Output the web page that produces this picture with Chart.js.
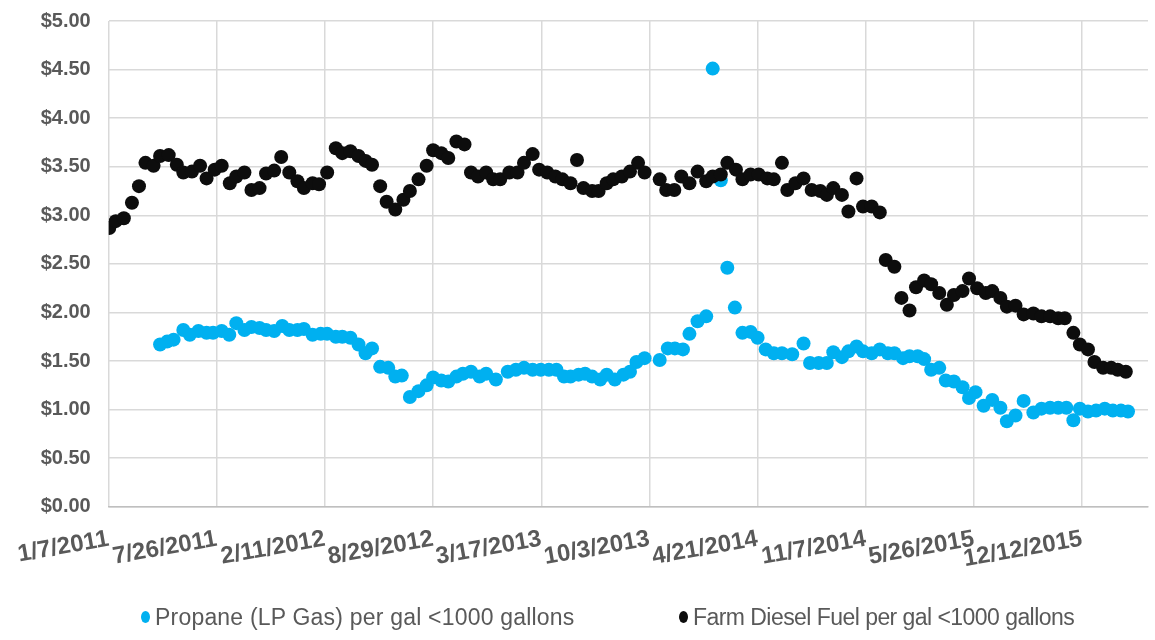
<!DOCTYPE html>
<html>
<head>
<meta charset="utf-8">
<script src="https://cdn.jsdelivr.net/npm/chart.js@4.4.1/dist/chart.umd.min.js"></script>
<style>
  html, body { margin: 0; padding: 0; background: #fff; }
  #wrap { width: 1155px; height: 640px; position: relative; overflow: hidden; }
  #chartBox { position: absolute; left: 0; top: -9px; width: 1155px; height: 649px; }
  .leg { position: absolute; top: 604px; height: 26px; display: flex; align-items: center;
         font-family: 'Liberation Sans', Arial, sans-serif; font-size: 23px; color: #595959; white-space: nowrap; }
  .leg .dot { display: inline-block; width: 9px; height: 12px; border-radius: 50%; margin-right: 5px; }
</style>
</head>
<body>
<div id="wrap">
  <div id="chartBox"><canvas id="c"></canvas></div>
  <div class="leg" id="leg0" style="left:141px; letter-spacing:0.2px;"><span class="dot" id="dot0"></span><span id="txt0"></span></div>
  <div class="leg" id="leg1" style="left:679px; letter-spacing:-0.55px;"><span class="dot" id="dot1"></span><span id="txt1"></span></div>
</div>
<script>
// Days since 1/7/2011
const xTickStepDays = 200;
const startDate = [2011, 0, 7];

const dieselDays = [1,13,28,43,56,68,83,95,111,126,138,154,169,181,196,209,224,236,251,264,279,291,306,319,334,349,361,377,389,404,420,432,447,462,475,487,502,514,530,545,557,573,588,600,615,628,643,658,670,683,698,711,724,741,756,768,784,796,811,826,839,854,866,878,894,906,921,933,949,964,979,991,1019,1031,1046,1059,1074,1089,1105,1117,1132,1144,1160,1172,1187,1202,1218,1230,1245,1255,1270,1285,1300,1316,1328,1340,1356,1368,1383,1395,1411,1426,1437,1453,1466,1481,1493,1508,1521,1536,1550,1563,1579,1591,1606,1622,1634,1649,1661,1677,1692,1710,1725,1741,1756,1768,1784,1796,1811,1823,1839,1854,1866,1881];
const dieselPrice = [2.87,2.94,2.97,3.13,3.30,3.54,3.51,3.61,3.62,3.52,3.44,3.45,3.51,3.38,3.47,3.51,3.33,3.40,3.44,3.26,3.28,3.43,3.46,3.60,3.44,3.35,3.28,3.33,3.32,3.44,3.69,3.64,3.66,3.61,3.56,3.52,3.30,3.14,3.06,3.16,3.25,3.37,3.51,3.67,3.64,3.59,3.76,3.73,3.44,3.40,3.44,3.37,3.37,3.44,3.44,3.54,3.63,3.47,3.44,3.40,3.37,3.33,3.57,3.28,3.25,3.25,3.33,3.37,3.40,3.45,3.54,3.44,3.37,3.26,3.26,3.40,3.33,3.45,3.35,3.40,3.42,3.54,3.47,3.37,3.42,3.42,3.38,3.37,3.54,3.26,3.33,3.38,3.26,3.25,3.21,3.28,3.21,3.04,3.38,3.09,3.09,3.03,2.54,2.47,2.15,2.02,2.26,2.33,2.29,2.20,2.08,2.18,2.22,2.35,2.25,2.20,2.22,2.15,2.06,2.07,1.98,1.99,1.96,1.96,1.94,1.94,1.79,1.67,1.62,1.49,1.43,1.43,1.41,1.39];

const propaneDays = [95,108,120,138,150,166,181,193,209,223,236,251,264,279,291,306,321,334,349,361,377,392,404,420,432,447,462,475,487,502,517,530,542,557,573,588,600,615,628,643,655,670,686,698,716,738,753,768,784,799,814,828,842,854,869,881,894,909,921,936,952,964,976,991,1019,1034,1047,1062,1074,1089,1105,1117,1132,1144,1158,1172,1187,1200,1215,1230,1245,1264,1285,1297,1313,1328,1340,1356,1368,1383,1395,1411,1426,1441,1453,1469,1481,1496,1508,1521,1536,1548,1563,1579,1591,1603,1618,1634,1649,1661,1677,1692,1710,1725,1741,1756,1771,1784,1796,1811,1826,1842,1857,1872,1885];
const propanePrice = [1.67,1.70,1.72,1.82,1.77,1.81,1.79,1.79,1.81,1.77,1.89,1.82,1.85,1.84,1.82,1.81,1.86,1.82,1.82,1.83,1.77,1.78,1.78,1.75,1.75,1.74,1.67,1.58,1.63,1.44,1.43,1.34,1.35,1.13,1.19,1.25,1.33,1.30,1.29,1.34,1.37,1.39,1.34,1.37,1.31,1.39,1.41,1.43,1.41,1.41,1.41,1.41,1.34,1.34,1.36,1.37,1.34,1.31,1.36,1.31,1.36,1.39,1.49,1.53,1.51,1.63,1.63,1.62,1.78,1.91,1.96,4.51,3.36,2.46,2.05,1.79,1.80,1.74,1.62,1.58,1.58,1.57,1.68,1.48,1.48,1.48,1.59,1.54,1.60,1.65,1.60,1.58,1.62,1.58,1.58,1.53,1.55,1.55,1.52,1.41,1.43,1.30,1.29,1.23,1.12,1.18,1.04,1.10,1.02,0.88,0.94,1.09,0.97,1.01,1.02,1.02,1.02,0.89,1.01,0.98,0.99,1.01,0.99,0.99,0.98];

const seriesNames = ['Propane (LP Gas) per gal <1000 gallons', 'Farm Diesel Fuel per gal <1000 gallons'];
const seriesColors = ['#00b0f0', '#0d0d0d'];

function toPoints(days, vals) { return days.map((d, i) => ({ x: d, y: vals[i] })); }
function dayLabel(d) {
  const dt = new Date(Date.UTC(startDate[0], startDate[1], startDate[2] + d));
  return (dt.getUTCMonth() + 1) + '/' + dt.getUTCDate() + '/' + dt.getUTCFullYear();
}

// HTML legend (real text)
for (let i = 0; i < 2; i++) {
  document.getElementById('txt' + i).textContent = seriesNames[i];
  document.getElementById('dot' + i).style.background = seriesColors[i];
}

const FONT = "'Liberation Sans', Arial, sans-serif";
const GREY = '#595959';

new Chart(document.getElementById('c'), {
  type: 'scatter',
  data: {
    datasets: [
      // diesel first so it is drawn on top of propane
      { label: seriesNames[1], data: toPoints(dieselDays, dieselPrice),
        backgroundColor: seriesColors[1], borderColor: seriesColors[1], pointRadius: 7, pointHoverRadius: 7, borderWidth: 0 },
      { label: seriesNames[0], data: toPoints(propaneDays, propanePrice),
        backgroundColor: seriesColors[0], borderColor: seriesColors[0], pointRadius: 7, pointHoverRadius: 7, borderWidth: 0 }
    ]
  },
  options: {
    responsive: true,
    maintainAspectRatio: false,
    animation: false,
    layout: { padding: { top: 0, right: -7, left: 22, bottom: 48 } },
    plugins: {
      tooltip: { enabled: false },
      legend: { display: false }
    },
    scales: {
      x: {
        type: 'linear', min: 0, max: 1922,
        grid: { color: '#d9d9d9', lineWidth: 1.5, drawTicks: false },
        border: { color: '#bfbfbf', width: 1.5 },
        ticks: {
          stepSize: xTickStepDays, autoSkip: false, minRotation: 10, maxRotation: 10, padding: 18,
          color: GREY, font: { family: FONT, size: 24, weight: 'bold' },
          callback: (v) => dayLabel(v)
        },
        afterBuildTicks: (axis) => {
          axis.ticks = [];
          for (let d = 0; d <= 1922; d += xTickStepDays) axis.ticks.push({ value: d });
        }
      },
      y: {
        min: 0, max: 5,
        grid: { color: '#d9d9d9', lineWidth: 1.5, drawTicks: false },
        border: { display: false },
        ticks: {
          stepSize: 0.5, padding: 18,
          color: GREY, font: { family: FONT, size: 20, weight: 'bold' },
          callback: (v) => '$' + Number(v).toFixed(2)
        }
      }
    }
  }
});
</script>
</body>
</html>
